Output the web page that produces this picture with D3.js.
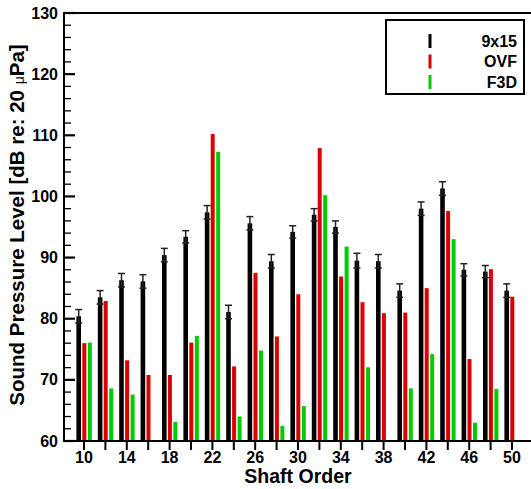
<!DOCTYPE html>
<html>
<head>
<meta charset="utf-8">
<script src="https://cdn.jsdelivr.net/npm/d3@7"></script>
<style>
  body { margin: 0; background: #fff; }
  text { font-family: "Liberation Sans", Arial, sans-serif; font-weight: bold; }
</style>
</head>
<body>
<script>
"use strict";

// Shaft orders on the x axis
let orders = [10, 12, 14, 16, 18, 20, 22, 24, 26, 28, 30, 32, 34, 36, 38, 40, 42, 44, 46, 48, 50];
// 9x15 measurements (with error bars)
let wt9x15 = [80.4, 83.5, 86.3, 86.1, 90.4, 93.4, 97.4, 81.1, 95.6, 89.4, 94.2,
              97.0, 95.0, 89.5, 89.4, 84.6, 98.0, 101.3, 88.0, 87.7, 84.6];
let wt9x15Err = [1.1, 1.1, 1.1, 1.1, 1.1, 1.0, 1.1, 1.1, 1.1, 1.1, 1.0,
                 1.0, 1.0, 1.2, 1.1, 1.1, 1.1, 1.1, 1.0, 1.0, 1.1];
let ovf = [76.0, 82.9, 73.2, 70.8, 70.8, 76.1, 110.2, 72.2, 87.5, 77.1, 84.0,
           107.9, 86.9, 82.7, 80.9, 81.0, 85.0, 97.6, 73.4, 88.1, 83.6];
let f3d = [76.1, 68.6, 67.6, null, 63.1, 77.2, 107.3, 64.0, 74.8, 62.45, 65.7,
           100.2, 91.8, 72.05, null, 68.6, 74.2, 93.0, 63.0, 68.5, null];

let xTicks = orders;
let xLabels = [10, 14, 18, 22, 26, 30, 34, 38, 42, 46, 50];
let yTicks = [60, 70, 80, 90, 100, 110, 120, 130];

let series = [
    {name: "9x15", values: wt9x15, color: "#000000", offset: -5.3, width: 4.6},
    {name: "OVF", values: ovf, color: "#dc0000", offset: 0.3, width: 4},
    {name: "F3D", values: f3d, color: "#00cc00", offset: 5.8, width: 4}
];

//Width and height
let w = 531;
let h = 489;
let pLeft = 64, pRight = 532, pTop = 13, pBottom = 441;

let svg = d3.select("body").append("svg")
    .attr("width", w)
    .attr("height", h);

let x = d3.scaleLinear().domain([10, 50]).range([84, 512]);
let y = d3.scaleLinear().domain([60, 130]).range([pBottom, pTop]);

// bars
series.forEach(s => {
    svg.append("g")
        .selectAll("rect")
        .data(orders.map((o, i) => ({o: o, v: s.values[i]})).filter(d => d.v != null))
        .enter().append("rect")
        .attr("x", d => x(d.o) + s.offset - s.width / 2)
        .attr("y", d => y(d.v))
        .attr("width", s.width)
        .attr("height", d => y(60) - y(d.v))
        .attr("fill", s.color);
});

// error bars on the 9x15 bars
let eb = svg.append("g").attr("stroke", "#222").attr("stroke-width", 1.5);
orders.forEach((o, i) => {
    let cx = x(o) + series[0].offset;
    let hi = y(wt9x15[i] + wt9x15Err[i]);
    let lo = y(wt9x15[i] - wt9x15Err[i]);
    eb.append("line").attr("x1", cx).attr("x2", cx).attr("y1", hi).attr("y2", lo);
    eb.append("line").attr("x1", cx - 3.5).attr("x2", cx + 3.5).attr("y1", hi).attr("y2", hi);
    eb.append("line").attr("x1", cx - 3.5).attr("x2", cx + 3.5).attr("y1", lo).attr("y2", lo);
});

// frame
svg.append("path")
    .attr("d", `M${pRight},${pTop}H${pLeft}V${pBottom}H${pRight}`)
    .attr("fill", "none")
    .attr("stroke", "#000")
    .attr("stroke-width", 2);

// y ticks (inward), minor every 2
let yMinor = d3.range(60, 130.1, 2);
svg.append("g").selectAll("line")
    .data(yMinor)
    .enter().append("line")
    .attr("x1", pLeft)
    .attr("x2", d => pLeft + (d % 10 === 0 ? 11 : 7))
    .attr("y1", d => y(d))
    .attr("y2", d => y(d))
    .attr("stroke", "#000")
    .attr("stroke-width", d => d % 10 === 0 ? 2.2 : 1.3);

svg.append("g").selectAll("text")
    .data(yTicks)
    .enter().append("text")
    .attr("x", pLeft - 6)
    .attr("y", d => y(d) + 5.5)
    .attr("text-anchor", "end")
    .attr("font-size", 16)
    .text(d => d);

// x ticks (outward)
svg.append("g").selectAll("line")
    .data(xTicks)
    .enter().append("line")
    .attr("x1", d => x(d))
    .attr("x2", d => x(d))
    .attr("y1", pBottom)
    .attr("y2", pBottom + 9)
    .attr("stroke", "#000")
    .attr("stroke-width", 2);

svg.append("g").selectAll("text")
    .data(xLabels)
    .enter().append("text")
    .attr("x", d => x(d))
    .attr("y", 462.5)
    .attr("text-anchor", "middle")
    .attr("font-size", 16)
    .text(d => d);

// axis titles
svg.append("text")
    .attr("x", x(30))
    .attr("y", 483)
    .attr("text-anchor", "middle")
    .attr("font-size", 19.5)
    .text("Shaft Order");

let yt = svg.append("text")
    .attr("transform", "translate(24,225) rotate(-90)")
    .attr("text-anchor", "middle")
    .attr("font-size", 20.5);
yt.append("tspan").text("Sound Pressure Level [dB re: 20 ");
yt.append("tspan").attr("font-size", 14).attr("font-weight", "normal").text("\u03bc");
yt.append("tspan").text("Pa]");

// legend
let lg = svg.append("g");
lg.append("rect")
    .attr("x", 386).attr("y", 20)
    .attr("width", 138).attr("height", 74)
    .attr("fill", "#fff")
    .attr("stroke", "#000")
    .attr("stroke-width", 2);
series.forEach((s, i) => {
    let yy = 34 + i * 20.5;
    lg.append("line")
        .attr("x1", 430).attr("x2", 430)
        .attr("y1", yy).attr("y2", yy + 14)
        .attr("stroke", s.color)
        .attr("stroke-width", 3);
    lg.append("text")
        .attr("x", 517)
        .attr("y", yy + 12.5)
        .attr("text-anchor", "end")
        .attr("font-size", 16)
        .text(s.name);
});
</script>
</body>
</html>
